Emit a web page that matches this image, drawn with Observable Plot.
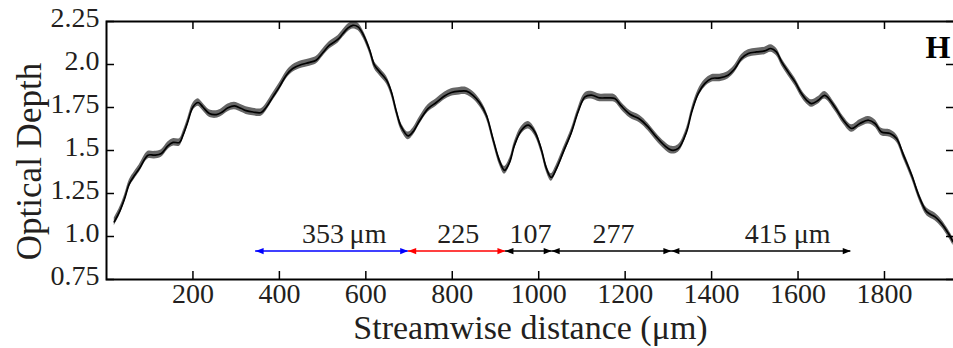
<!DOCTYPE html>
<html><head><meta charset="utf-8">
<script src="https://cdn.jsdelivr.net/npm/d3@7"></script>
<script src="https://cdn.jsdelivr.net/npm/@observablehq/plot@0.6"></script>
<style>
html,body{margin:0;padding:0;background:#fff;}
</style></head><body><div id="chart"></div>
<script>
// Streamwise distance (µm) and optical depth
const distance = [18,30,42,53,65,76,96,111,127,142,154,169,177,188,200,212,223,238,254,266,281,296,312,323,339,358,370,385,400,416,431,451,470,485,501,516,536,547,559,570,582,594,609,620,632,648,659,671,682,698,709,725,744,763,782,798,817,833,848,863,879,894,910,921,933,944,960,976,991,1006,1018,1029,1041,1057,1076,1091,1107,1122,1141,1161,1176,1191,1211,1234,1253,1272,1292,1307,1323,1342,1354,1369,1384,1400,1419,1438,1454,1469,1485,1504,1523,1537,1550,1562,1577,1593,1608,1620,1631,1647,1662,1685,1705,1724,1743,1763,1778,1793,1813,1828,1844,1863,1882,1898,1917,1932,1948,1959];
const depth = [1.085,1.143,1.221,1.308,1.356,1.395,1.473,1.473,1.483,1.527,1.547,1.547,1.589,1.666,1.753,1.779,1.753,1.715,1.709,1.721,1.748,1.759,1.744,1.732,1.724,1.721,1.753,1.812,1.870,1.938,1.977,2.000,2.012,2.025,2.070,2.112,2.147,2.180,2.213,2.228,2.219,2.174,2.083,1.996,1.957,1.909,1.841,1.724,1.637,1.585,1.608,1.676,1.744,1.779,1.817,1.837,1.845,1.845,1.821,1.779,1.705,1.570,1.434,1.385,1.434,1.531,1.618,1.647,1.608,1.507,1.395,1.343,1.395,1.492,1.608,1.724,1.812,1.822,1.806,1.806,1.802,1.759,1.711,1.682,1.637,1.579,1.527,1.502,1.512,1.608,1.724,1.831,1.889,1.919,1.922,1.938,1.977,2.035,2.064,2.073,2.079,2.093,2.073,2.015,1.957,1.899,1.831,1.792,1.773,1.792,1.821,1.753,1.676,1.628,1.657,1.676,1.657,1.608,1.599,1.570,1.473,1.356,1.221,1.143,1.114,1.076,1.017,0.969];
const bandSpread = 0.022;

const xTicks = [200,400,600,800,1000,1200,1400,1600,1800];
const xTickLabels = ["200","400","600","800","1000","1200","1400","1600","1800"];
const yTicks = [0.75,1.0,1.25,1.5,1.75,2.0,2.25];
const yTickLabels = ["0.75","1.0","1.25","1.5","1.75","2.0","2.25"];

// Spacing annotations
const spanStarts = [345, 698, 923, 1030, 1307];
const spanLengths = [353, 225, 107, 277, 415];
const spanLabels = ["353\u2009\u03bcm", "225", "107", "277", "415 \u03bcm"];
const spanLabelX = [550, 814, 981, 1173, 1576];
const spanColors = ["#0000ff", "#ff0000", "#000000", "#000000", "#000000"];
const arrowLevel = 0.915;
const labelLevel = 1.016;

const rows = distance.map((x, i) => ({x, y: depth[i], lo: depth[i] - bandSpread, hi: depth[i] + bandSpread}));
const spans = spanStarts.map((s, i) => ({x1: s, x2: s + spanLengths[i], color: spanColors[i], label: spanLabels[i], lx: spanLabelX[i], ay: arrowLevel, ly: labelLevel}));

const triRight = {draw(ctx, size) { const r = Math.sqrt(size / Math.PI); ctx.moveTo(0, 0); ctx.lineTo(-2 * r, -0.8 * r); ctx.lineTo(-2 * r, 0.8 * r); ctx.closePath(); }};
const triLeft = {draw(ctx, size) { const r = Math.sqrt(size / Math.PI); ctx.moveTo(0, 0); ctx.lineTo(2 * r, -0.8 * r); ctx.lineTo(2 * r, 0.8 * r); ctx.closePath(); }};

const W = 953, H = 348;
const mL = 106, mR = -1, mT = 21, mB = 69;
const plotW = W - mL - mR, plotH = H - mT - mB;
const tickLen = 8;
const serif = "'Liberation Serif','Times New Roman',serif";
const ink = "#231f20";

const chart = Plot.plot({
  width: W, height: H,
  marginLeft: mL, marginRight: mR, marginTop: mT, marginBottom: mB,
  style: {fontFamily: serif, background: "white", color: ink},
  x: {domain: [0, 1962], label: null},
  y: {domain: [0.75, 2.25], label: null},
  color: {type: "identity"},
  marks: [
    Plot.areaY(rows, {x: "x", y1: "lo", y2: "hi", fill: "#666666", curve: "catmull-rom"}),
    Plot.line(rows, {x: "x", y: "y", stroke: "#000", strokeWidth: 1.7, curve: "catmull-rom"}),
    Plot.ruleY(spans, {x1: "x1", x2: "x2", y: "ay", stroke: "color", strokeWidth: 1.5}),
    Plot.dot(spans, {x: "x1", y: "ay", symbol: triLeft, r: 4, fill: "color"}),
    Plot.dot(spans, {x: "x2", y: "ay", symbol: triRight, r: 4, fill: "color"}),
    Plot.text(spans, {x: "lx", y: "ly", text: "label", fontSize: 28, fill: ink, lineAnchor: "middle"}),
    Plot.tickX(xTicks, {x: d => d, insetTop: plotH - tickLen, stroke: "#000", strokeWidth: 1.5}),
    Plot.tickX(xTicks, {x: d => d, insetBottom: plotH - tickLen, stroke: "#000", strokeWidth: 1.5}),
    Plot.tickY(yTicks, {y: d => d, insetRight: plotW - tickLen, stroke: "#000", strokeWidth: 1.5}),
    Plot.tickY(yTicks, {y: d => d, insetLeft: plotW - tickLen, stroke: "#000", strokeWidth: 1.5}),
    Plot.frame({stroke: "#000", strokeWidth: 2}),
    Plot.axisX({ticks: xTicks, tickFormat: d => xTickLabels[xTicks.indexOf(d)], tickSize: 0, tickPadding: 4, fontSize: 28, label: null}),
    Plot.axisY({ticks: yTicks, tickFormat: d => yTickLabels[yTicks.indexOf(d)], tickSize: 0, tickPadding: 7, fontSize: 28, dy: -3, label: null}),
    Plot.text(["Optical Depth"], {frameAnchor: "left", rotate: -90, fontSize: 35, textAnchor: "middle", lineAnchor: "middle", dx: -77, dy: 11, fill: ink}),
    Plot.text(["Streamwise distance (\u03bcm)"], {frameAnchor: "bottom", fontSize: 34, textAnchor: "middle", lineAnchor: "middle", dy: 49, fill: ink}),
    Plot.text(["H"], {frameAnchor: "top-right", fontSize: 32, fontWeight: "bold", textAnchor: "end", lineAnchor: "top", dx: -4, dy: 14, fill: "#000"})
  ]
});
document.getElementById("chart").appendChild(chart);
</script>
</body></html>
